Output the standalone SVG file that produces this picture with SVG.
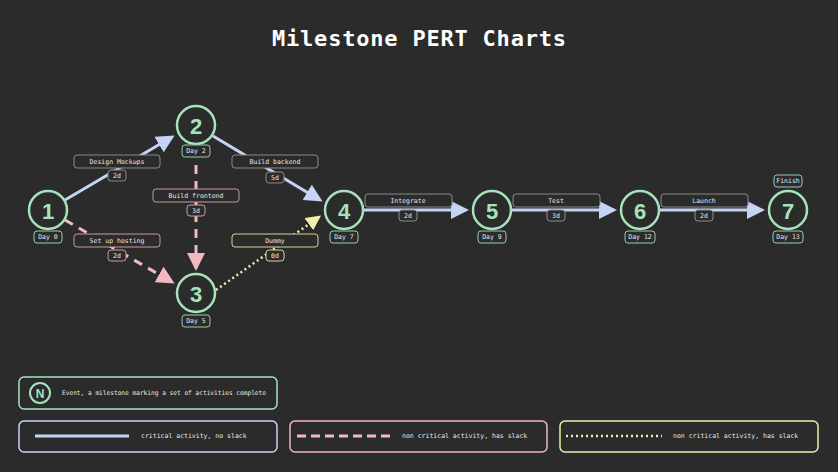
<svg xmlns="http://www.w3.org/2000/svg" width="838" height="472" viewBox="0 0 838 472">
<style>
text{font-family:"DejaVu Sans Mono","Liberation Mono",monospace;fill:#e6e6e6;text-anchor:middle;dominant-baseline:central}
.ev circle{fill:none;stroke:#a6e3bd;stroke-width:2.5}
.ev .n{font-family:"Liberation Sans",Arial,sans-serif;font-size:22px;font-weight:bold;fill:#a6e3bd}
.tag{fill:#2b2b2b;stroke:#9ccdb0;stroke-width:1}
.lbl{fill:#2b2b2b;stroke:#8a8a8a;stroke-width:1}
.lblp{fill:#2b2b2b;stroke:#c99aa0;stroke-width:1}
.lbly{fill:#2b2b2b;stroke:#d6d49a;stroke-width:1}
.s{font-size:6.5px}
.crit{stroke:#c5d4f5;stroke-width:3;fill:none}
.nc{stroke:#f4b8c0;stroke-width:3;fill:none;stroke-dasharray:9 7}
.dot{stroke:#f0eeaa;stroke-width:2.5;fill:none;stroke-dasharray:2 3}
</style>
<defs>
<marker id="ab" markerWidth="6" markerHeight="6" refX="5" refY="3" orient="auto"><path d="M0,0L6,3L0,6z" fill="#c5d4f5"/></marker>
<marker id="ap" markerWidth="6" markerHeight="6" refX="5" refY="3" orient="auto"><path d="M0,0L6,3L0,6z" fill="#f4b8c0"/></marker>
<marker id="ay" markerWidth="6" markerHeight="6" refX="5" refY="3" orient="auto"><path d="M0,0L6,3L0,6z" fill="#f0eeaa"/></marker>
</defs>
<rect width="838" height="472" fill="#2b2b2b"/>
<text x="419" y="38" textLength="294" style="font-size:22px;font-weight:bold;fill:#fff;font-family:'DejaVu Sans Mono',monospace">Milestone PERT Charts</text>
<g id="connectors">
<line class="crit" x1="65" y1="200" x2="172" y2="137" marker-end="url(#ab)"/>
<line class="crit" x1="213" y1="136" x2="320" y2="200" marker-end="url(#ab)"/>
<line class="nc" x1="65" y1="220" x2="172" y2="282" marker-end="url(#ap)"/>
<line class="nc" x1="196" y1="165" x2="196" y2="268" marker-end="url(#ap)"/>
<line class="dot" x1="216" y1="290" x2="319" y2="217" marker-end="url(#ay)"/>
<line class="crit" x1="364" y1="210" x2="466" y2="210" marker-end="url(#ab)"/>
<line class="crit" x1="512" y1="210" x2="614" y2="210" marker-end="url(#ab)"/>
<line class="crit" x1="660" y1="210" x2="762" y2="210" marker-end="url(#ab)"/>
</g>
<g id="labels">
<rect class="lbl" x="74" y="155" width="86" height="13" rx="3"/><text class="s" x="117" y="161.5">Design Mockups</text>
<rect class="lbl" x="108" y="170" width="18" height="11" rx="3"/><text class="s" x="117" y="175.5">2d</text>
<rect class="lbl" x="232" y="155" width="86" height="13" rx="3"/><text class="s" x="275" y="161.5">Build backend</text>
<rect class="lbl" x="266" y="172" width="18" height="11" rx="3"/><text class="s" x="275" y="177.5">5d</text>
<rect class="lblp" x="153" y="189" width="86" height="13" rx="3"/><text class="s" x="196" y="195.5">Build frontend</text>
<rect class="lblp" x="187" y="205" width="18" height="11" rx="3"/><text class="s" x="196" y="210.5">3d</text>
<rect class="lblp" x="74" y="234" width="86" height="13" rx="3"/><text class="s" x="117" y="240.5">Set up hosting</text>
<rect class="lblp" x="108" y="250" width="18" height="11" rx="3"/><text class="s" x="117" y="255.5">2d</text>
<rect class="lbly" x="232" y="234" width="86" height="13" rx="3"/><text class="s" x="275" y="240.5">Dummy</text>
<rect class="lbly" x="266" y="250" width="18" height="11" rx="3"/><text class="s" x="275" y="255.5">0d</text>
<rect class="lbl" x="365" y="194" width="87" height="13" rx="3"/><text class="s" x="408" y="200.5">Integrate</text>
<rect class="lbl" x="399" y="210" width="18" height="11" rx="3"/><text class="s" x="408" y="215.5">2d</text>
<rect class="lbl" x="513" y="194" width="87" height="13" rx="3"/><text class="s" x="556" y="200.5">Test</text>
<rect class="lbl" x="547" y="210" width="18" height="11" rx="3"/><text class="s" x="556" y="215.5">3d</text>
<rect class="lbl" x="661" y="194" width="87" height="13" rx="3"/><text class="s" x="704" y="200.5">Launch</text>
<rect class="lbl" x="695" y="210" width="18" height="11" rx="3"/><text class="s" x="704" y="215.5">2d</text>
</g>
<g id="n1" class="ev"><circle cx="48" cy="210" r="19"/><text class="n" x="48" y="211">1</text><rect class="tag" x="34" y="231" width="28" height="12" rx="3"/><text class="s" x="48" y="237">Day 0</text></g>
<g id="n2" class="ev"><circle cx="196" cy="125" r="19"/><text class="n" x="196" y="126">2</text><rect class="tag" x="182" y="145" width="28" height="12" rx="3"/><text class="s" x="196" y="151">Day 2</text></g>
<g id="n3" class="ev"><circle cx="196" cy="293" r="19"/><text class="n" x="196" y="294">3</text><rect class="tag" x="182" y="315" width="28" height="12" rx="3"/><text class="s" x="196" y="321">Day 5</text></g>
<g id="n4" class="ev"><circle cx="344" cy="210" r="19"/><text class="n" x="344" y="211">4</text><rect class="tag" x="330" y="231" width="28" height="12" rx="3"/><text class="s" x="344" y="237">Day 7</text></g>
<g id="n5" class="ev"><circle cx="492" cy="210" r="19"/><text class="n" x="492" y="211">5</text><rect class="tag" x="478" y="231" width="28" height="12" rx="3"/><text class="s" x="492" y="237">Day 9</text></g>
<g id="n6" class="ev"><circle cx="640" cy="210" r="19"/><text class="n" x="640" y="211">6</text><rect class="tag" x="625" y="231" width="30" height="12" rx="3"/><text class="s" x="640" y="237">Day 12</text></g>
<g id="n7" class="ev"><circle cx="788" cy="210" r="19"/><text class="n" x="788" y="211">7</text><rect class="tag" x="773" y="231" width="30" height="12" rx="3"/><text class="s" x="788" y="237">Day 13</text><rect class="tag" x="774" y="175" width="28" height="12" rx="3"/><text class="s" x="788" y="181">Finish</text></g>
<g id="legend">
<rect x="19" y="377" width="258" height="32" rx="5" fill="none" stroke="#a6e3bd" stroke-width="1.5"/>
<circle cx="40" cy="393" r="10" fill="none" stroke="#a6e3bd" stroke-width="2"/>
<text x="40" y="394" style="font-size:12px;font-weight:bold;fill:#a6e3bd;font-family:'Liberation Sans',sans-serif">N</text>
<text class="s" x="62" y="393" textLength="204" lengthAdjust="spacingAndGlyphs" style="text-anchor:start">Event, a milestone marking a set of activities complete</text>
<rect x="19" y="421" width="258" height="31" rx="5" fill="none" stroke="#c5d4f5" stroke-width="1.5"/>
<line x1="35" y1="436" x2="129" y2="436" stroke="#c5d4f5" stroke-width="3"/>
<text class="s" x="141" y="436" style="text-anchor:start">critical activity, no slack</text>
<rect x="290" y="421" width="257" height="31" rx="5" fill="none" stroke="#f4b8c0" stroke-width="1.5"/>
<line x1="297" y1="436" x2="391" y2="436" stroke="#f4b8c0" stroke-width="3" stroke-dasharray="9 5"/>
<text class="s" x="402" y="436" style="text-anchor:start">non critical activity, has slack</text>
<rect x="560" y="421" width="258" height="31" rx="5" fill="none" stroke="#f0eeaa" stroke-width="1.5"/>
<line x1="566" y1="436" x2="662" y2="436" stroke="#f0eeaa" stroke-width="2.5" stroke-dasharray="2 3"/>
<text class="s" x="673" y="436" style="text-anchor:start">non critical activity, has slack</text>
</g>
</svg>
